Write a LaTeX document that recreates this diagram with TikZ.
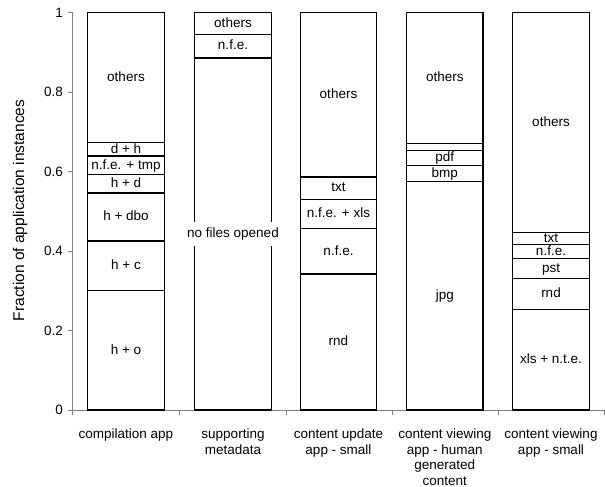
\documentclass[tikz,border=0pt]{standalone}
\usepackage{fontspec}
\setmainfont{Liberation Sans}
\begin{document}
\begin{tikzpicture}[x=1pt,y=1pt,
  axis/.style={draw=black!50, line width=0.8pt},
  barline/.style={draw=black, line width=1.3pt},
  lab/.style={font=\fontsize{13.5}{15.6}\selectfont, inner sep=0pt, text height=0.86em, text depth=0.1em},
  ticklab/.style={font=\fontsize{13.5}{15.6}\selectfont, anchor=east, inner sep=0pt},
  catlab/.style={font=\fontsize{13.5}{15.6}\selectfont, align=center, anchor=north, inner sep=0pt}]
\useasboundingbox (0,0) rectangle (605,487);
\newcommand\drawbar[3]{%
  \foreach \a/\b/\t [count=\i] in {#3} {
    \draw[barline] (#2-38.2,\a) rectangle (#2+38.2,\b);
    \node[lab] (#1s\i) at (#2,{(\a+\b)/2}) {\t};
  }}
\begin{scope}[y=397.6pt, yshift=77pt]
  % axes
  \coordinate (o) at (72,0);
  \coordinate (ytop) at (72,1);
  \coordinate (xend) at (604,0);
  \draw[axis] (ytop) -- (o) -- (xend);
  \foreach \v/\t [count=\k] in {0/0,0.2/0.2,0.4/0.4,0.6/0.6,0.8/0.8,1/1} {
    \draw[axis] (68,\v) -- (72,\v);
    \node[ticklab] (yt\k) at (63,\v) {\t};
  }
  \foreach \x in {72,179.5,286,392.5,498,604} {
    \draw[axis] (\x,0) -- ++(0,-5pt);
  }
  % bars
  \drawbar{ba}{126}{0/0.30/h + o, 0.30/0.425/h + c, 0.425/0.546/h + dbo, 0.546/0.592/h + d, 0.592/0.639/n.f.e. + tmp, 0.639/0.672/d + h, 0.672/1/others}
  \draw[barline] (233-38.2,0) rectangle (233+38.2,0.885);
  \node[lab, fill=white, inner xsep=2pt, inner ysep=6.8pt] (bbs1) at (233,0.4425) {no files opened};
  \drawbar{bb}{233}{0.885/0.945/n.f.e., 0.945/1/others}
  \drawbar{bc}{338.5}{0/0.342/rnd, 0.342/0.4565/n.f.e., 0.4565/0.530/n.f.e. + xls, 0.530/0.586/txt, 0.586/1/others}
  \drawbar{bd}{444.8}{0/0.574/jpg, 0.574/0.6156/bmp, 0.6156/0.652/pdf, 0.652/0.670/{}, 0.670/1/others}
  \drawbar{be}{551}{0/0.253/xls + n.t.e., 0.253/0.331/rnd, 0.331/0.3816/pst, 0.3816/0.417/n.f.e., 0.417/0.447/txt, 0.447/1/others}
\end{scope}
% y label
\node[font=\fontsize{15.5}{18}\selectfont, rotate=90, inner sep=0pt] (ylab) at (20,276.5) {Fraction of application instances};
% category labels
\node[catlab] (cat1) at (126,58.4) {compilation app};
\node[catlab] (cat2) at (233,58.4) {supporting\\metadata};
\node[catlab] (cat3) at (338.5,58.4) {content update\\app - small};
\node[catlab] (cat4) at (444.8,58.4) {content viewing\\app - human\\generated\\content};
\node[catlab] (cat5) at (551,58.4) {content viewing\\app - small};
\end{tikzpicture}
\end{document}
